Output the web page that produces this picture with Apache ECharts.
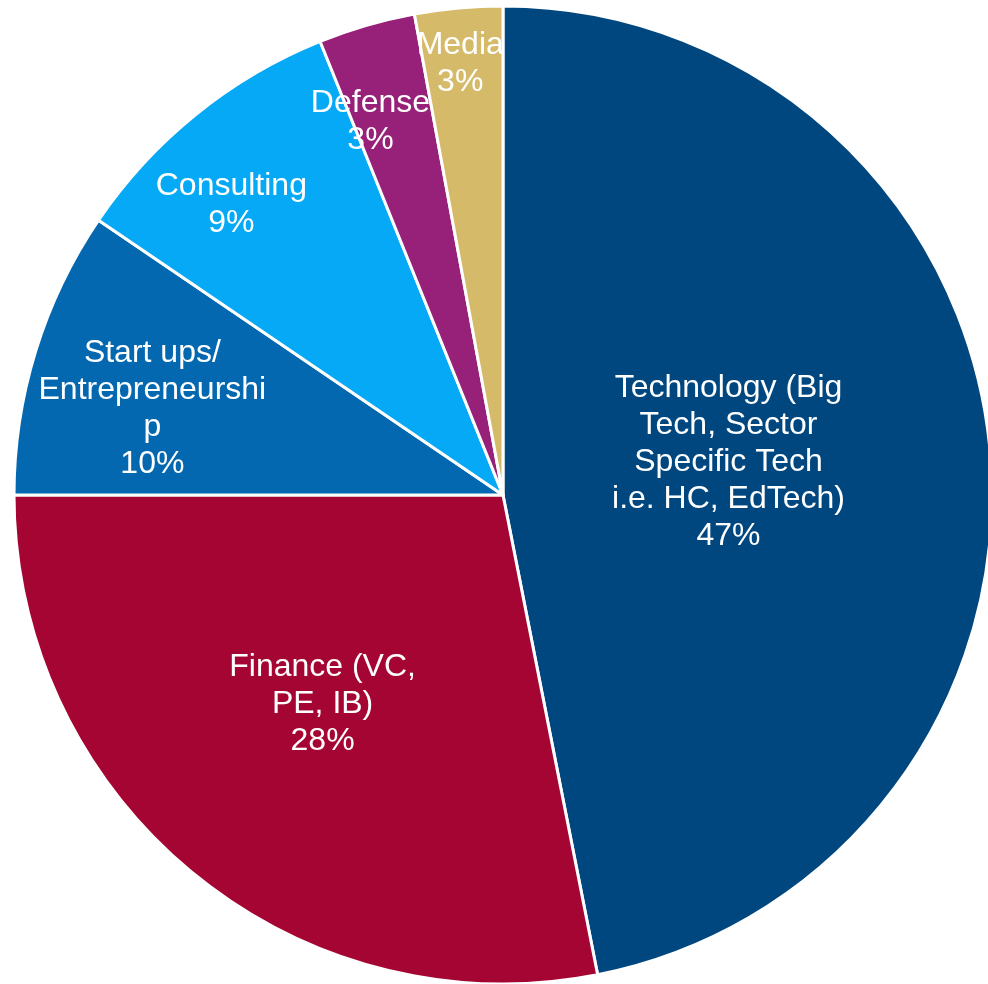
<!DOCTYPE html>
<html>
<head>
<meta charset="utf-8">
<title>Sector pie</title>
<script src="https://cdn.jsdelivr.net/npm/echarts@6/dist/echarts.min.js"></script>
<style>
  html, body { margin: 0; padding: 0; background: #fff; }
  #chart { width: 988px; height: 984px; }
</style>
</head>
<body>
<div id="chart"></div>
<script>
// categories, as wrapped in the picture
var categories = [
  'Technology (Big\nTech, Sector\nSpecific Tech\ni.e. HC, EdTech)',
  'Finance (VC,\nPE, IB)',
  'Start ups/\nEntrepreneurshi\np',
  'Consulting',
  'Defense',
  'Media'
];
// shares in percent
var shares = [46.9, 28.1, 9.5, 9.4, 3.2, 2.9];
var colors = ['#00477F', '#A50533', '#0468B0', '#05A9F5', '#972078', '#D5BB69'];

// label placement: fraction of radius, angle nudge in degrees
var labelPolar = [[0.467, -3.5], [0.561, 1.7], [0.74, -2.8], [0.818, -3.9], [0.816, -3.2], [0.893, -0.4]];

var cx = 503, cy = 495, R = 489;

var total = shares.reduce(function(a, b){ return a + b }, 0);
var midAngles = [];
var acc = 0;
shares.forEach(function(v){
  midAngles.push((acc + v / 2) / total * 360);
  acc += v;
});

var pieData = categories.map(function(name, i){
  return { name: name, value: shares[i], itemStyle: { color: colors[i] } };
});

var myChart = echarts.init(document.getElementById('chart'));
var option = {
  animation: false,
  series: [
    {
      type: 'pie',
      center: [cx, cy],
      radius: [0, R],
      startAngle: 90,
      clockwise: true,
      avoidLabelOverlap: false,
      itemStyle: { borderColor: '#ffffff', borderWidth: 3 },
      label: {
        show: true,
        position: 'inside',
        color: '#ffffff',
        fontFamily: '"Liberation Sans", Arial, sans-serif',
        fontSize: 32,
        lineHeight: 37,
        align: 'center',
        formatter: function(p){
          return p.name + '\n' + Math.round(p.percent) + '%';
        }
      },
      labelLine: { show: false },
      emphasis: { disabled: true },
      labelLayout: function(params){
        var i = params.dataIndex;
        var a = (midAngles[i] + labelPolar[i][1]) * Math.PI / 180;
        var d = labelPolar[i][0] * R;
        return {
          x: cx + d * Math.sin(a),
          y: cy - d * Math.cos(a) + 3,
          align: 'center',
          verticalAlign: 'middle'
        };
      },
      data: pieData
    }
  ]
};
myChart.setOption(option);
</script>
</body>
</html>
